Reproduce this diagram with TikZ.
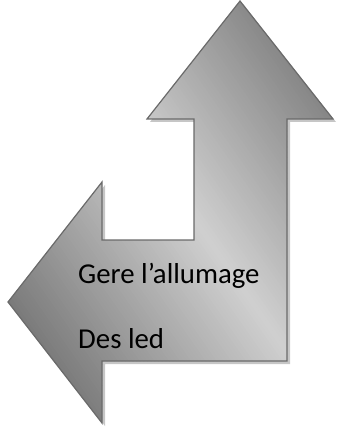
\documentclass[tikz,border=0pt]{standalone}
\usepackage{fontspec}
\setmainfont{Carlito}
\definecolor{armdark}{HTML}{7A7A7A}
\definecolor{armlight}{HTML}{D0D0D0}
\definecolor{armline}{HTML}{6A6A6A}
\definecolor{armshadow}{HTML}{C6C6C6}
\tikzset{
  armlabel/.style={anchor=base west, inner sep=0pt, font=\fontsize{28.8}{34}\selectfont, text=black}
}
\begin{document}
\begin{tikzpicture}[x=1pt,y=-1pt]
\useasboundingbox (0,0) rectangle (351,438);
\def\armpath{(240,1) -- (333,119) -- (287,119) -- (287,361) -- (102,361) -- (102,423) -- (8,302) -- (102,182) -- (102,240) -- (194,240) -- (194,119) -- (147,119) -- cycle}
% shadow
\fill[armshadow, shift={(3,3)}] \armpath;
% arrow body: linear grey gradient, light along a diagonal band
\begin{scope}
  \clip \armpath;
  \foreach \d in {-240,-237,...,240}{
    \pgfmathsetmacro\p{max(0,100*(1-abs(\d+1.5)/200))}
    \fill[armlight!\p!armdark]
      ({195+\d*0.819-229},{220-\d*0.574-328})
      -- ({195+\d*0.819+229},{220-\d*0.574+328})
      -- ({195+(\d+3.6)*0.819+229},{220-(\d+3.6)*0.574+328})
      -- ({195+(\d+3.6)*0.819-229},{220-(\d+3.6)*0.574-328}) -- cycle;
  }
\end{scope}
\draw[draw=armline, line width=1.2pt, line join=miter] \armpath;
\node[armlabel] (l1) at (78,283) {Gere l’allumage};
\node[armlabel] (l2) at (78,348) {Des led};
\end{tikzpicture}
\end{document}
